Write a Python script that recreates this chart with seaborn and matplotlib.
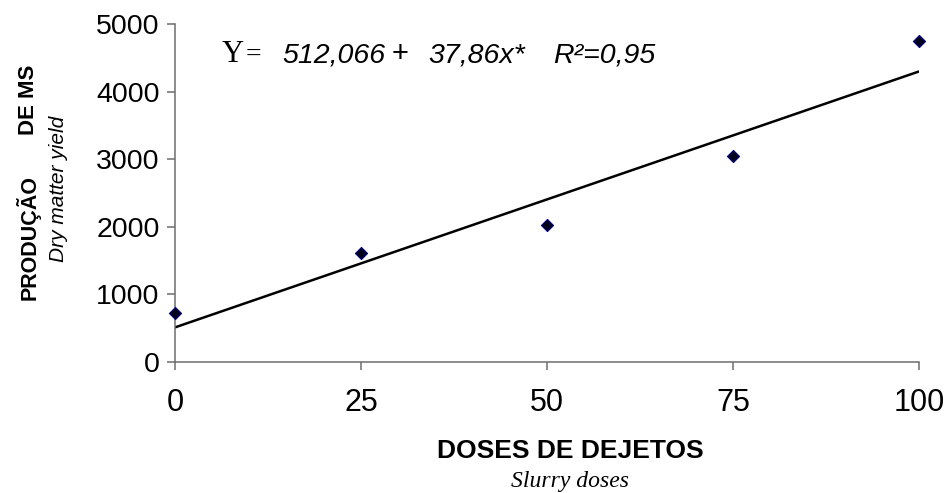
import numpy as np
import pandas as pd
import matplotlib
matplotlib.use("Agg")
import matplotlib.pyplot as plt
import seaborn as sns

# Data
doses = [0, 25, 50, 75, 100]
yield_ms = [725, 1610, 2030, 3040, 4745]
intercept = 512.066
slope = 37.86
x_ticks = [0, 25, 50, 75, 100]
y_ticks = [0, 1000, 2000, 3000, 4000, 5000]

sns.set_style("white")
plt.rcParams['font.family'] = ['Liberation Sans', 'DejaVu Sans']
plt.rcParams['text.color'] = 'black'

df = pd.DataFrame({'dose': doses, 'ms': yield_ms})
x_fit = np.array([min(doses), max(doses)])
fit = pd.DataFrame({'dose': x_fit, 'ms': intercept + slope * x_fit})

W, H = 950, 493
fig = plt.figure(figsize=(9.5, 4.93), dpi=100)
ax = fig.add_axes([175 / W, (H - 362) / H, (919 - 175) / W, (362 - 24) / H])

sns.lineplot(data=fit, x='dose', y='ms', ax=ax, color='black', linewidth=1.8)
sns.scatterplot(data=df, x='dose', y='ms', ax=ax, marker='D', s=38,
                color='#00001a', edgecolor='#000080', linewidth=0.8,
                clip_on=False, zorder=5)

ax.set_xlim(0, 100)
ax.set_ylim(0, 5000)
ax.set_xticks(x_ticks)
ax.set_yticks(y_ticks)
ax.set_xlabel('')
ax.set_ylabel('')
for side in ['top', 'right']:
    ax.spines[side].set_visible(False)
for side in ['left', 'bottom']:
    ax.spines[side].set_color('#6e6e6e')
    ax.spines[side].set_linewidth(1.1)
ax.tick_params(axis='x', direction='out', length=6, width=1.1, color='#6e6e6e',
               labelcolor='black', labelsize=22, pad=13, bottom=True)
ax.tick_params(axis='y', direction='out', length=6, width=1.1, color='#6e6e6e',
               labelcolor='black', labelsize=20.5, pad=5, left=True)

# Axis titles
def px(x, y):
    return x / W, 1 - y / H

fig.text(*px(570, 451), 'DOSES DE DEJETOS', ha='center', va='center',
         fontsize=19, fontweight='bold')
fig.text(*px(570, 487), 'Slurry doses', ha='center', va='baseline',
         fontsize=17, style='italic', family='Liberation Serif')
fig.text(*px(28, 237), 'PRODUÇÃO', ha='center', va='center', rotation=90,
         fontsize=15.5, fontweight='bold')
fig.text(*px(28, 100), 'DE MS', ha='center', va='center', rotation=90,
         fontsize=16, fontweight='bold')
fig.text(*px(58, 189), 'Dry matter yield', ha='center', va='center', rotation=90,
         fontsize=15, style='italic')

# Regression equation
base = 62
fig.text(*px(222, base), 'Y', ha='left', va='baseline', fontsize=22,
         family='Liberation Serif')
fig.text(*px(246, base), '=', ha='left', va='baseline', fontsize=20,
         family='Liberation Serif')
fig.text(*px(282, base), '512,066', ha='left', va='baseline', fontsize=20.5, style='italic')
fig.text(*px(392, base), '+', ha='left', va='baseline', fontsize=21)
fig.text(*px(428, base), '37,86x*', ha='left', va='baseline', fontsize=20.5, style='italic')
fig.text(*px(553, base), 'R²=0,95', ha='left', va='baseline', fontsize=20.5, style='italic')

fig.savefig('out.png', dpi=100)
